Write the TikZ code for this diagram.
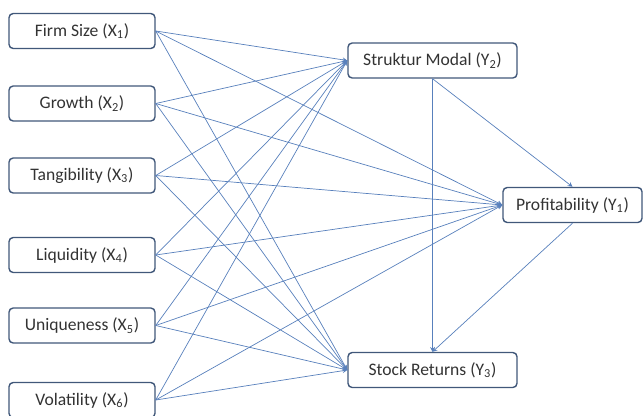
\documentclass[tikz,border=0pt]{standalone}
\usepackage{fontspec}
\setmainfont{Carlito}
\usetikzlibrary{arrows}
\definecolor{boxline}{RGB}{65,88,122}
\definecolor{arrline}{RGB}{88,128,188}

\begin{document}
\begin{tikzpicture}[x=0.025cm,y=-0.025cm,
  var/.style={draw=boxline, line width=1pt, rounded corners=3pt, fill=white, text=black!80,
    minimum height=0.875cm, inner sep=0pt, font=\fontsize{12.5}{15}\selectfont},
  indep/.style={var, minimum width=3.65cm},
  dep/.style={var, minimum width=4.225cm},
  link/.style={draw=arrline, line width=0.5pt, -stealth}]
\useasboundingbox (0,0) rectangle (643,415);

% independent variables
\node[indep] (x1) at (82,31) {Firm Size (X\textsubscript{1})};
\node[indep] (x2) at (82,103.5) {Growth (X\textsubscript{2})};
\node[indep] (x3) at (82,175.5) {Tangibility (X\textsubscript{3})};
\node[indep] (x4) at (82,255) {Liquidity (X\textsubscript{4})};
\node[indep] (x5) at (82,325.5) {Uniqueness (X\textsubscript{5})};
\node[indep] (x6) at (82,400) {Volatility (X\textsubscript{6})};

% dependent variables
\node[dep] (y2) at (432.5,60.5) {Struktur Modal (Y\textsubscript{2})};
\node[var, minimum width=3.475cm] (y1) at (572.5,205) {Profitability (Y\textsubscript{1})};
\node[dep] (y3) at (432.5,370) {Stock Returns (Y\textsubscript{3})};

\foreach \i in {1,...,6}{
  \draw[link] (x\i.east) -- (y2.west);
  \draw[link] (x\i.east) -- (y1.west);
  \draw[link] (x\i.east) -- (y3.west);
}
\draw[link] (y2.south) -- (y3.north);
\draw[link] (y2.south) -- (y1.north);
\draw[link] (y1.south) -- (y3.north);
\end{tikzpicture}
\end{document}
